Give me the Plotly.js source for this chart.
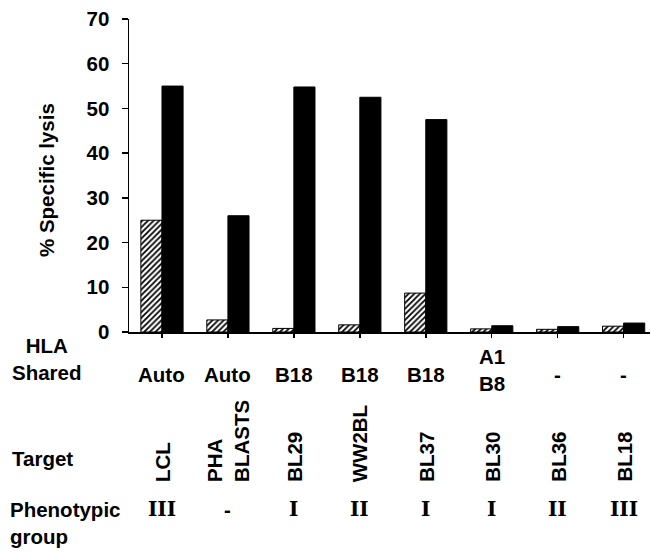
<!DOCTYPE html>
<html>
<head>
<meta charset="utf-8">
<script src="https://cdn.plot.ly/plotly-3.0.1.min.js"></script>
<style>
  html, body { margin: 0; padding: 0; background: #fff; }
  #chart { width: 651px; height: 553px; }
</style>
</head>
<body>
<div id="chart"></div>
<script>
// ---- data ----
var targets = ['LCL', 'PHA<br>BLASTS', 'BL29', 'WW2BL', 'BL37', 'BL30', 'BL36', 'BL18'];
var hlaShared = ['Auto', 'Auto', 'B18', 'B18', 'B18', 'A1<br>B8', '-', '-'];
var phenoGroup = ['III', '-', 'I', 'II', 'I', 'I', 'II', 'III'];
var hatchedValues = [25, 2.7, 0.8, 1.6, 8.7, 0.7, 0.6, 1.3];
var solidValues = [55, 26, 54.8, 52.5, 47.5, 1.4, 1.2, 2.0];
var yTicks = [0, 10, 20, 30, 40, 50, 60, 70];

// ---- layout helpers (pixel -> paper) ----
var M = { l: 129, r: 1, t: 19, b: 221 };
var W = 651, H = 553;
var PW = W - M.l - M.r, PH = H - M.t - M.b;
function px(x) { return (x - M.l) / PW; }
function py(y) { return (H - M.b - y) / PH; }

var sans = 'Liberation Sans, Arial, Helvetica, sans-serif';
var serif = 'DejaVu Serif, Liberation Serif, serif';
var FS = 20.5;
var FW = 'bold';
function f(size) { return { family: sans, size: size || FS, color: '#000', weight: FW }; }

var traces = [
  {
    type: 'bar', x: targets, y: hatchedValues, name: 'hatched',
    marker: {
      color: '#ffffff',
      pattern: { shape: '/', fgcolor: '#000000', bgcolor: '#ffffff', size: 4, solidity: 0.45 },
      line: { color: '#000000', width: 1 }
    },
    hoverinfo: 'skip'
  },
  {
    type: 'bar', x: targets, y: solidValues, name: 'solid',
    marker: { color: '#000000', line: { color: '#000000', width: 1 } },
    hoverinfo: 'skip'
  }
];

var ann = [];
// y-axis title
ann.push({ xref: 'paper', yref: 'paper', x: px(46), y: py(180), text: '% Specific lysis',
  textangle: -90, showarrow: false, xanchor: 'center', yanchor: 'middle', font: f() });
// row headers
ann.push({ xref: 'paper', yref: 'paper', x: px(47), y: py(359), text: 'HLA<br>Shared',
  showarrow: false, xanchor: 'center', yanchor: 'middle', align: 'center', font: f() });
ann.push({ xref: 'paper', yref: 'paper', x: px(10), y: py(458), text: 'Target',
  showarrow: false, xanchor: 'left', yanchor: 'middle', align: 'left', font: f() });
ann.push({ xref: 'paper', yref: 'paper', x: px(8), y: py(523), text: 'Phenotypic<br>group',
  showarrow: false, xanchor: 'left', yanchor: 'middle', align: 'left', font: f() });

for (var i = 0; i < targets.length; i++) {
  var multi = hlaShared[i].indexOf('<br>') >= 0;
  ann.push({ xref: 'x', yref: 'paper', x: targets[i], y: py(multi ? 370 : 374), text: hlaShared[i],
    showarrow: false, xanchor: 'center', yanchor: 'middle', align: 'center', font: f() });
  ann.push({ xref: 'x', yref: 'paper', x: targets[i], y: py(484), text: targets[i],
    textangle: -90, showarrow: false, xanchor: 'center', yanchor: 'bottom', align: 'left', font: f() });
  var isDash = phenoGroup[i] === '-';
  ann.push({ xref: 'x', yref: 'paper', x: targets[i], y: py(509), text: phenoGroup[i],
    showarrow: false, xanchor: 'center', yanchor: 'middle',
    font: isDash ? f() : { family: serif, size: 20, color: '#000', weight: 'bold' } });
}

var layout = {
  width: W, height: H,
  margin: M,
  paper_bgcolor: '#fff', plot_bgcolor: '#fff',
  showlegend: false,
  barmode: 'group', bargap: 0.36, bargroupgap: 0,
  xaxis: {
    type: 'category', range: [-0.5, 7.4],
    showgrid: false, zeroline: false,
    showline: true, linecolor: '#000', linewidth: 1.5,
    ticks: 'outside', ticklen: 4, tickwidth: 1.5, tickcolor: '#000',
    showticklabels: false
  },
  yaxis: {
    range: [0, 70], tickvals: yTicks, ticktext: yTicks.map(String),
    showgrid: false, zeroline: false,
    showline: true, linecolor: '#000', linewidth: 1.5,
    ticks: 'outside', ticklen: 6, tickwidth: 1.5, tickcolor: '#000',
    ticklabelstandoff: 8,
    tickfont: f()
  },
  annotations: ann
};

Plotly.newPlot('chart', traces, layout, { staticPlot: true, displayModeBar: false });
</script>
</body>
</html>
